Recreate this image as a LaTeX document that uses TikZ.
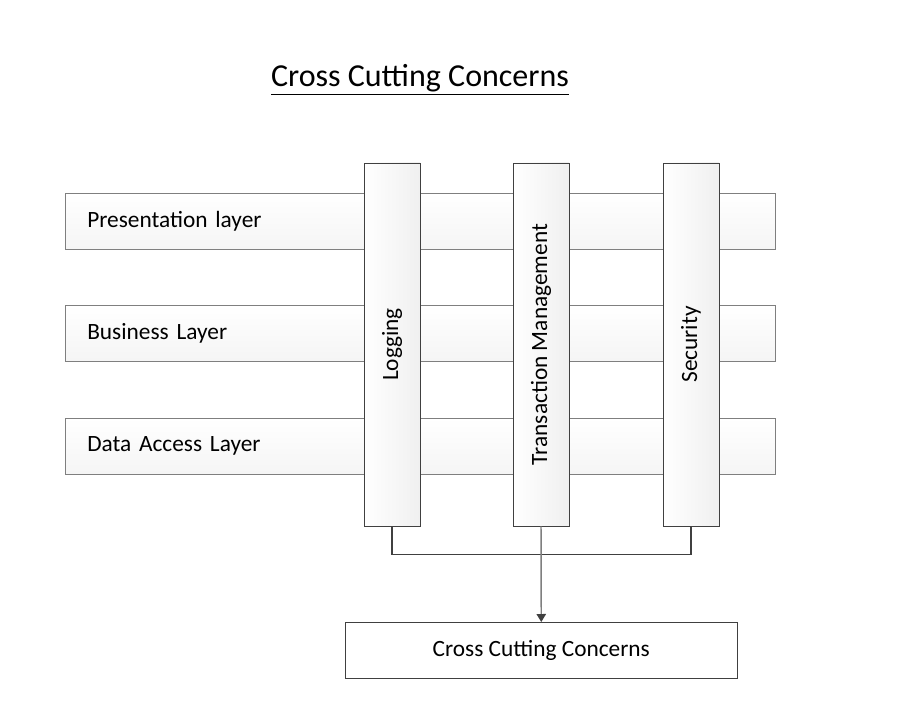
\documentclass[tikz,border=0pt]{standalone}
\usepackage{fontspec}
\setmainfont{Carlito}
\usetikzlibrary{arrows.meta, positioning, calc}
\definecolor{barline}{HTML}{7F7F7F}
\definecolor{linkline}{HTML}{404040}

\begin{document}
\begin{tikzpicture}[
    x=0.75pt, y=-0.75pt,
    layer/.style={draw=barline, top color=white, bottom color=gray!8, minimum width=532.5pt, minimum height=42pt,
      inner xsep=16.5pt, text width=499.5pt, align=left, font=\fontsize{17.5}{21}\selectfont, anchor=north west},
    concern/.style={draw=linkline, left color=white, right color=gray!12, minimum width=272.25pt, minimum height=42pt,
      rotate=90, inner sep=0, font=\fontsize{17.5}{21}\selectfont},
    result/.style={draw=linkline, fill=white, minimum width=294pt, minimum height=42pt, font=\fontsize{17.5}{21}\selectfont, anchor=north west},
    >={Triangle[length=6pt, width=7pt, color=linkline]}
]
\useasboundingbox[fill=white] (0,0) rectangle (924,709);
% title
\node[font=\fontsize{24}{28}\selectfont] (title) at (420,80) {\underline{Cross Cutting Concerns}};
% the three layers
\node[layer] (pres) at (65,193) {Presentation layer};
\node[layer] (biz) at (65,305) {Business Layer};
\node[layer] (data) at (65,418) {Data Access Layer};
% concerns across the layers
\node[concern] (log) at (392,344.5) {Logging};
\node[concern] (trans) at (541,344.5) {Transaction Management};
\node[concern] (sec) at (691,344.5) {Security};
% result box
\node[result] (ccc) at (345,622) {Cross Cutting Concerns};
% links
\coordinate (joinL) at ($(log.west)+(0,28)$);
\coordinate (joinR) at ($(sec.west)+(0,28)$);
\draw[linkline, line width=0.9pt] (log.west) -- (joinL) -- (joinR) -- (sec.west);
\draw[->, barline, line width=1.1pt] (trans.west) -- (ccc.north);
\end{tikzpicture}
\end{document}
